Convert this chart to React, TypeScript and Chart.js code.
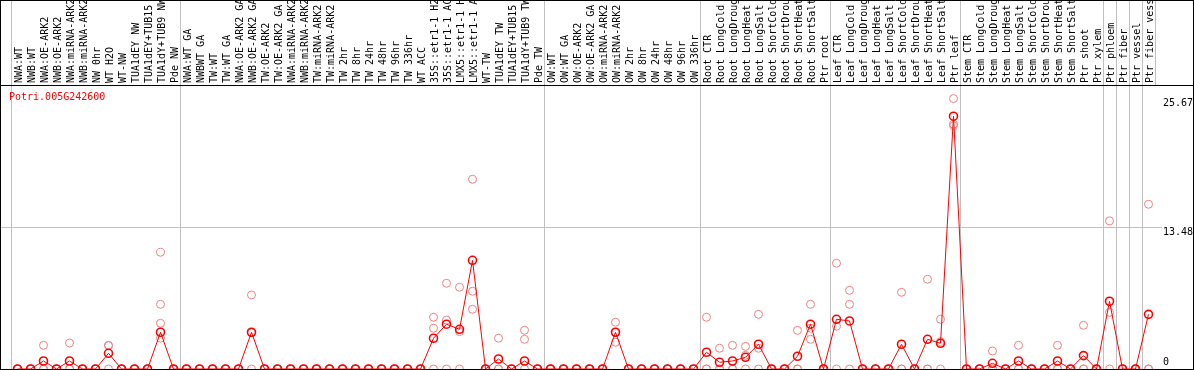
import React, { useEffect, useRef } from 'react';
import { Chart, registerables } from 'chart.js';

Chart.register(...registerables);

const FONT = 'DejaVu Sans Mono';

const geneId = 'Potri.005G242600';

const categories = [
  // group 1
  'NWA:WT', 'NWB:WT', 'NWA:OE-ARK2', 'NWB:OE-ARK2', 'NWA:miRNA-ARK2', 'NWB:miRNA-ARK2', 'NW 0hr', 'WT H2O', 'WT-NW',
  'TUA1dEY NW', 'TUA1dEY+TUB15', 'TUA1dY+TUB9 NW', 'Pde NW',
  // group 2
  'NWA:WT GA', 'NWBWT GA', 'TW:WT', 'TW:WT GA', 'NWA:OE-ARK2 GA', 'NWB:OE-ARK2 GA', 'TW:OE-ARK2', 'TW:OE-ARK2 GA',
  'NWA:miRNA-ARK2', 'NWB:miRNA-ARK2', 'TW:miRNA-ARK2', 'TW:miRNA-ARK2', 'TW 2hr', 'TW 8hr', 'TW 24hr', 'TW 48hr',
  'TW 96hr', 'TW 336hr', 'WT ACC', '35S::etr1-1 H2', '35S::etr1-1 AC', 'LMX5::etr1-1 H', 'LMX5::etr1-1 A', 'WT-TW',
  'TUA1dEY TW', 'TUA1dEY+TUB15', 'TUA1dY+TUB9 TW', 'Pde TW',
  // group 3
  'OW:WT', 'OW:WT GA', 'OW:OE-ARK2', 'OW:OE-ARK2 GA', 'OW:miRNA-ARK2', 'OW:miRNA-ARK2', 'OW 2hr', 'OW 8hr', 'OW 24hr',
  'OW 48hr', 'OW 96hr', 'OW 336hr',
  // group 4
  'Root CTR', 'Root LongCold', 'Root LongDroug', 'Root LongHeat', 'Root LongSalt', 'Root ShortCold', 'Root ShortDrou',
  'Root ShortHeat', 'Root ShortSalt', 'Ptr root',
  // group 5
  'Leaf CTR', 'Leaf LongCold', 'Leaf LongDroug', 'Leaf LongHeat', 'Leaf LongSalt', 'Leaf ShortCold', 'Leaf ShortDrou',
  'Leaf ShortHeat', 'Leaf ShortSalt', 'Ptr leaf',
  // group 6
  'Stem CTR', 'Stem LongCold', 'Stem LongDroug', 'Stem LongHeat', 'Stem LongSalt', 'Stem ShortCold', 'Stem ShortDrou',
  'Stem ShortHeat', 'Stem ShortSalt', 'Ptr shoot', 'Ptr xylem',
  // group 7
  'Ptr phloem', 'Ptr fiber', 'Ptr vessel', 'Ptr fiber vess',
];

const meanValues = [
  0, 0, 0.76, 0, 0.76, 0, 0, 1.49, 0, 0, 0, 3.49, 0,
  0, 0, 0, 0, 0, 3.49, 0, 0, 0, 0, 0, 0, 0, 0, 0, 0, 0, 0, 0, 2.92, 4.25, 3.77, 10.32, 0, 0.95, 0, 0.76, 0,
  0, 0, 0, 0, 0, 3.49, 0, 0, 0, 0, 0, 0,
  1.59, 0.64, 0.76, 1.11, 2.35, 0, 0, 1.21, 4.25, 0,
  4.72, 4.56, 0, 0, 0, 2.35, 0, 2.82, 2.44, 24.0,
  0, 0, 0.54, 0, 0.76, 0, 0, 0.76, 0, 1.27, 0,
  6.43, 0, 0, 5.19,
];

const replicate1 = [
  0, 0, 2.25, 0, 2.47, 0, 0, 2.25, 0, 0, 0, 11.08, 0,
  0, 0, 0, 0, 0, 7.03, 0, 0, 0, 0, 0, 0, 0, 0, 0, 0, 0, 0, 0, 4.91, 8.14, 7.76, 18.01, 0, 2.92, 0, 3.68, 0,
  0, 0, 0, 0, 0, 4.44, 0, 0, 0, 0, 0, 0,
  4.91, 1.97, 2.25, 2.15, 5.19, 0, 0, 3.67, 6.14, 0,
  10.04, 7.47, 0, 0, 0, 7.28, 0, 8.52, 4.72, 25.67,
  0, 0, 1.71, 0, 2.25, 0, 0, 2.25, 0, 4.15, 0,
  14.06, 0, 0, 15.64,
];

const replicate2 = [
  0, 0, 0, 0, 0, 0, 0, 2.22, 0, 0, 0, 6.14, 0,
  0, 0, 0, 0, 0, 3.44, 0, 0, 0, 0, 0, 0, 0, 0, 0, 0, 0, 0, 0, 3.87, 4.65, 3.55, 7.38, 0, 0, 0, 2.82, 0,
  0, 0, 0, 0, 0, 3.49, 0, 0, 0, 0, 0, 0,
  0, 0, 0, 1.3, 1.97, 0, 0, 0, 3.87, 0,
  4.06, 6.14, 0, 0, 0, 0, 0, 0, 2.6, 23.24,
  0, 0, 0, 0, 0, 0, 0, 0, 0, 0, 0,
  5.38, 0, 0, 0,
];

const replicate3 = [
  0, 0, 0, 0, 0, 0, 0, 0, 0, 0, 0, 4.34, 0,
  0, 0, 0, 0, 0, 0, 0, 0, 0, 0, 0, 0, 0, 0, 0, 0, 0, 0, 0, 0, 0, 0, 5.67, 0, 0, 0, 0, 0,
  0, 0, 0, 0, 0, 2.54, 0, 0, 0, 0, 0, 0,
  0, 0, 0, 0, 0, 0, 0, 0, 2.82, 0,
  0, 0, 0, 0, 0, 0, 0, 0, 0, 23.1,
  0, 0, 0, 0, 0, 0, 0, 0, 0, 0, 0,
  0, 0, 0, 0,
];

const replicate4 = [
  null, null, null, null, null, null, null, null, null, null, null, 2.92, null,
  null, null, null, null, null, null, null, null, null, null, null, null, null, null, null, null, null, null, null,
  null, null, null, null, null, null, null, null, null,
  null, null, null, null, null, null, null, null, null, null, null, null,
  null, null, null, null, null, null, null, null, null, null,
  null, null, null, null, null, null, null, null, null, null,
  null, null, null, null, null, null, null, null, null, null, null,
  null, null, null, null,
];

const yTicks = [0, 13.48, 25.67];
const yTickLabels = ['0', '13.48', '25.67'];
const yMax = 26.96;

// grid lines drawn at the left edge of these category indices (88 = right edge)
const separatorIndices = [0, 13, 41, 53, 63, 73, 84, 85, 86, 87, 88];

const GRID = '#c0c0c0';
const MAIN = '#ff0000';
const REP = '#f08080';
const TRANSPARENT = 'rgba(0,0,0,0)';

const decorPlugin = {
  id: 'decor',
  beforeDraw(chart: any) {
    const { ctx, chartArea } = chart;
    const xs = chart.scales.x;
    const ys = chart.scales.y;
    const half = (xs.getPixelForValue(1) - xs.getPixelForValue(0)) / 2;
    ctx.save();
    ctx.strokeStyle = GRID;
    ctx.lineWidth = 1;
    ctx.beginPath();
    separatorIndices.forEach((i) => {
      const px = Math.round(xs.getPixelForValue(i) - half - 0.5) + 0.5;
      ctx.moveTo(px, 0);
      ctx.lineTo(px, chartArea.top);
    });
    const py = Math.round(ys.getPixelForValue(yTicks[1]) - 0.5) + 0.5;
    ctx.moveTo(0, py);
    ctx.lineTo(chartArea.left, py);
    ctx.stroke();
    ctx.restore();
  },
  afterDraw(chart: any) {
    const { ctx, chartArea, width } = chart;
    ctx.save();
    ctx.strokeStyle = '#000';
    ctx.lineWidth = 1;
    ctx.beginPath();
    ctx.moveTo(0, 0.5);
    ctx.lineTo(width, 0.5);
    ctx.moveTo(0, chartArea.top + 0.5);
    ctx.lineTo(width, chartArea.top + 0.5);
    ctx.moveTo(0, Math.round(chartArea.bottom) + 0.5);
    ctx.lineTo(width, Math.round(chartArea.bottom) + 0.5);
    ctx.moveTo(0.5, 0);
    ctx.lineTo(0.5, chart.height);
    ctx.moveTo(width - 0.5, 0);
    ctx.lineTo(width - 0.5, chart.height);
    ctx.stroke();
    ctx.fillStyle = MAIN;
    ctx.font = `10px "${FONT}"`;
    ctx.textBaseline = 'middle';
    ctx.textAlign = 'left';
    ctx.fillText(geneId, 9, chartArea.top + 12);
    ctx.restore();
  },
};

const repDataset = (data: (number | null)[]) => ({
  type: 'line' as const,
  data,
  showLine: false,
  pointRadius: 4,
  pointBorderWidth: 1,
  pointBorderColor: REP,
  pointBackgroundColor: TRANSPARENT,
  borderColor: REP,
  clip: false as any,
});

export default function App() {
  const ref = useRef<HTMLCanvasElement | null>(null);

  useEffect(() => {
    document.body.style.margin = '0';
    if (!ref.current) return;
    const chart = new Chart(ref.current, {
      type: 'line',
      data: {
        labels: categories,
        datasets: [
          {
            data: meanValues,
            borderColor: MAIN,
            borderWidth: 1,
            pointRadius: 4,
            pointBorderWidth: 1.6,
            pointBorderColor: MAIN,
            pointBackgroundColor: TRANSPARENT,
            tension: 0,
            clip: false as any,
          },
          repDataset(replicate1),
          repDataset(replicate2),
          repDataset(replicate3),
          repDataset(replicate4),
        ],
      },
      options: {
        animation: false,
        responsive: true,
        maintainAspectRatio: false,
        events: [],
        layout: { autoPadding: false, padding: { left: 11, right: 0, top: 0, bottom: 1 } },
        plugins: { legend: { display: false }, tooltip: { enabled: false } },
        scales: {
          x: {
            type: 'category',
            position: 'top',
            offset: true,
            grid: {
              offset: true,
              drawTicks: false,
              lineWidth: 1,
              color: (c: any) => (separatorIndices.includes(c.index) ? GRID : TRANSPARENT),
            },
            border: { display: true, color: '#000', width: 1 },
            ticks: {
              autoSkip: false,
              minRotation: 90,
              maxRotation: 90,
              padding: 2,
              labelOffset: 14,
              color: '#000',
              font: { family: FONT, size: 10 },
            },
            afterFit: (s: any) => {
              s.height = 85;
              s.paddingLeft = 0;
              s.paddingRight = 0;
            },
          },
          y: {
            position: 'right',
            min: 0,
            max: yMax,
            afterBuildTicks: (s: any) => {
              s.ticks = yTicks.map((v) => ({ value: v }));
            },
            grid: {
              drawTicks: true,
              tickLength: 7,
              color: (c: any) => (c.tick && c.tick.value === yTicks[1] ? GRID : TRANSPARENT),
            },
            border: { display: false },
            ticks: {
              padding: 1,
              labelOffset: 5,
              color: '#000',
              font: { family: FONT, size: 10 },
              callback: (v: any) => {
                const i = yTicks.indexOf(Number(v));
                const lab = i >= 0 ? yTickLabels[i] : String(v);
                return Number(v) === 0 ? [lab, '', ''] : lab;
              },
            },
            afterFit: (s: any) => {
              s.width = 39;
              s.paddingTop = 0;
              s.paddingBottom = 0;
            },
          },
        },
      },
      plugins: [decorPlugin],
    });
    return () => chart.destroy();
  }, []);

  return (
    <div style={{ position: 'relative', width: 1194, height: 370 }}>
      <canvas ref={ref} />
    </div>
  );
}
